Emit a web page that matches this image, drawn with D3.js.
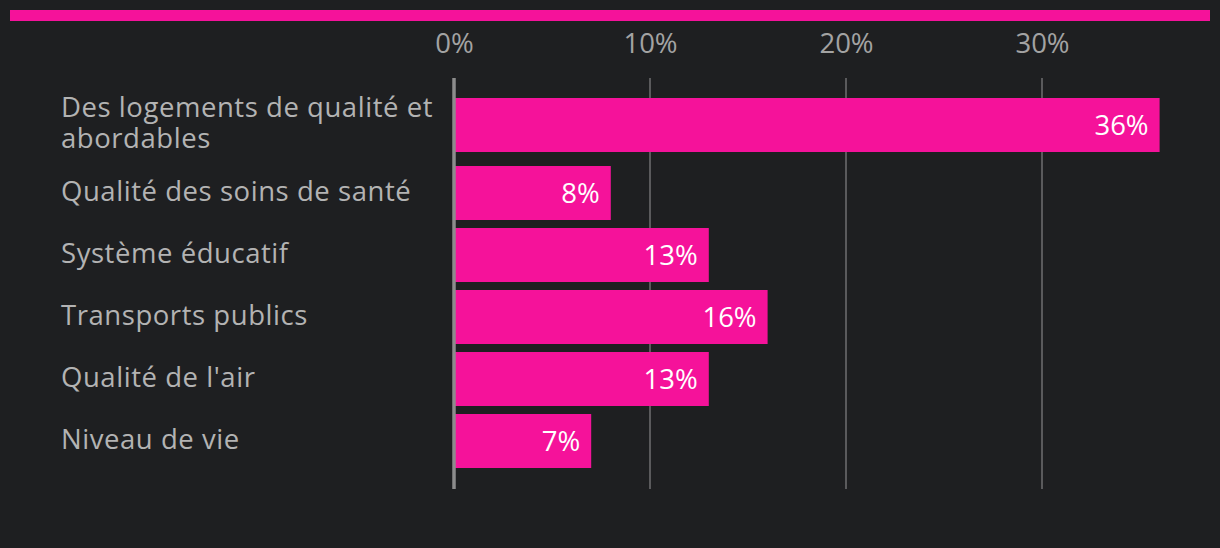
<!DOCTYPE html>
<html><head><meta charset="utf-8">
<script src="https://cdn.jsdelivr.net/npm/d3@7"></script>
<style>
html,body{margin:0;padding:0;background:#1e1f21;}
svg{display:block;font-family:"Open Sans","Noto Sans",sans-serif;}
</style></head>
<body>
<svg id="chart" width="1220" height="548"></svg>
<script>
const categories = ["Des logements de qualité et abordables","Qualité des soins de santé","Système éducatif","Transports publics","Qualité de l'air","Niveau de vie"];
const values = [36, 8, 13, 16, 13, 7];
const tickValues = [0, 10, 20, 30];
const tickLabels = ["0%", "10%", "20%", "30%"];

const W = 1220, H = 548;
const FONT = "'Open Sans', 'Noto Sans', sans-serif";
const svg = d3.select("#chart");
const pink = "#f5129a";

svg.append("rect").attr("x",0).attr("y",0).attr("width",W).attr("height",H).attr("fill","#1e1f21");
svg.append("rect").attr("x",10).attr("y",10).attr("width",1200).attr("height",11).attr("fill",pink);

const x0 = 454, labelX = 61, labelMax = 388;
const x = d3.scaleLinear().domain([0, 10]).range([x0, x0 + 196]);

// wrap labels
const labelFont = 27.5, lineH = 31, labelSpacing = 0.55;
const measure = svg.append("text").attr("font-size", labelFont).attr("font-family",FONT)
  .attr("letter-spacing", labelSpacing).attr("visibility","hidden");
function wrap(str){
  const words = str.split(" "); const lines=[]; let cur="";
  for(const w of words){
    const t = cur ? cur+" "+w : w;
    measure.text(t);
    if(measure.node().getComputedTextLength() > labelMax && cur){ lines.push(cur); cur = w; }
    else cur = t;
  }
  if(cur) lines.push(cur);
  return lines;
}
const wrapped = categories.map(wrap);
measure.remove();

const rowH = wrapped.map(l => Math.max(62, l.length*lineH + 12));
const top0 = 88;
const rowTop = []; let acc = top0;
rowH.forEach(h => { rowTop.push(acc); acc += h; });
const barH = 54;
const gridTop = 78, gridBot = acc + 17;

// gridlines
svg.append("g").selectAll("line").data(tickValues.filter(d=>d>0)).join("line")
  .attr("x1", d=>x(d)).attr("x2", d=>x(d)).attr("y1", gridTop).attr("y2", gridBot)
  .attr("stroke", "#5a5a5c").attr("stroke-width", 2);

// tick labels via axis
const axis = d3.axisTop(x).tickValues(tickValues).tickFormat((d,i)=>tickLabels[i]).tickSize(0).tickPadding(0);
const ag = svg.append("g").attr("transform","translate(0,53)").call(axis);
ag.select(".domain").remove();
ag.selectAll("text").attr("font-size",27.5).attr("fill","#a3a3a3").attr("font-family",FONT).attr("dy","0");

// bars
const cy = (i) => rowTop[i] + rowH[i]/2;
svg.append("g").selectAll("rect").data(values).join("rect")
  .attr("x", x(0)).attr("y", (d,i)=>cy(i)-barH/2)
  .attr("width", d=>x(d)-x(0)).attr("height", barH).attr("fill", pink);

// zero line
svg.append("line").attr("x1",x(0)).attr("x2",x(0)).attr("y1",gridTop).attr("y2",gridBot)
  .attr("stroke","#8c8c8c").attr("stroke-width",3.5);

// value labels
svg.append("g").selectAll("text").data(values).join("text")
  .attr("x", d=>x(d)-11).attr("y",(d,i)=>cy(i)).attr("dy","0.35em")
  .attr("text-anchor","end").attr("font-size",27.5).attr("fill","#ffffff").attr("font-family",FONT)
  .text(d=>d+"%");

// category labels
const lg = svg.append("g");
wrapped.forEach((lines,i)=>{
  const t = lg.append("text").attr("x",labelX).attr("font-size",labelFont).attr("fill","#b3b3b3")
    .attr("font-family",FONT).attr("letter-spacing",labelSpacing);
  const start = cy(i) - (lines.length-1)*lineH/2 - 2;
  lines.forEach((ln,j)=>{
    t.append("tspan").attr("x",labelX).attr("y",start + j*lineH).attr("dy","0.35em").text(ln);
  });
});
</script>
</body></html>
